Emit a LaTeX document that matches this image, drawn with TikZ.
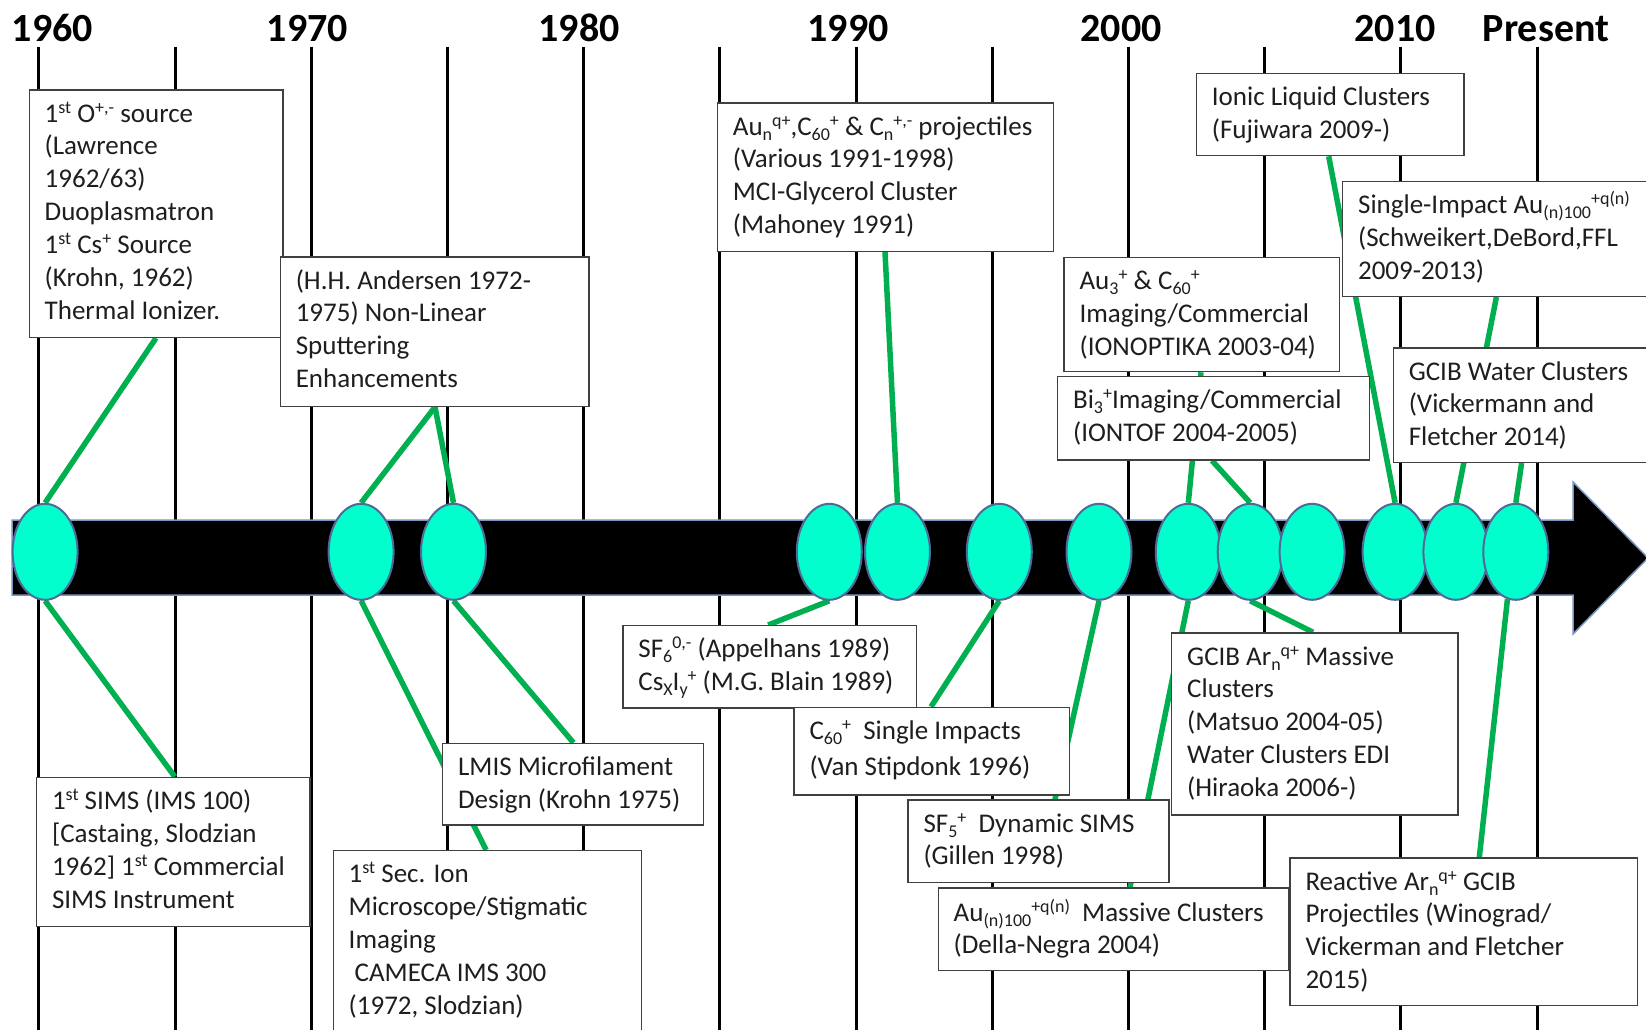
\documentclass[tikz,border=0pt]{standalone}
\usepackage{fontspec}
\setmainfont{Carlito}
\usetikzlibrary{calc,shapes.geometric}

\definecolor{conngreen}{RGB}{0,176,80}
\definecolor{beadfill}{RGB}{0,255,204}
\definecolor{beadline}{RGB}{80,105,150}
\definecolor{bandline}{RGB}{120,150,190}
\definecolor{frameline}{RGB}{64,64,64}
\definecolor{ink}{RGB}{30,30,30}

% raised / lowered small text for charge states and cluster sizes
\newcommand\myup[1]{\raisebox{9pt}{\fontsize{18}{18}\selectfont #1}}
\newcommand\mydn[1]{\raisebox{-5pt}{\fontsize{18}{18}\selectfont #1}}
% fixed height of the first line of each label
\newcommand\fl{\rule{0pt}{24pt}}

\pgfdeclarelayer{back}
\pgfdeclarelayer{links}
\pgfsetlayers{back,links,main}

\tikzset{
  decade/.style={line width=3pt, black},
  yearlabel/.style={font=\bfseries\fontsize{40}{40}\selectfont, inner sep=0pt, anchor=base},
  bead/.style={ellipse, draw=beadline, line width=2pt, fill=beadfill,
               minimum width=65pt, minimum height=96pt, inner sep=0pt},
  conn/.style={conngreen, line width=5.5pt},
  frame/.style={draw=frameline, line width=1.3pt, fill=white, anchor=north west, inner sep=0pt},
  txt/.style={anchor=north west, inner sep=0pt, align=left, text=ink,
              font=\fontsize{27}{32.9}\selectfont},
}

\begin{document}
\begin{tikzpicture}[x=1pt,y=-1pt]
\useasboundingbox (0,0) rectangle (1646,1030);

\begin{pgfonlayer}{back}
\fill[white] (0,0) rectangle (1646,1030);
% five-year grid lines
\foreach \gx in {38.8,175,311.2,447.4,583.6,719.8,856,992.2,1128.4,1264.6,1400.8,1537}
  \draw[decade] (\gx,46.7) -- (\gx,1040);
% time arrow
\draw[fill=black, draw=bandline, line width=1.5pt]
  (12,520) -- (1573,520) -- (1573,482) -- (1648,558) -- (1573,634) -- (1573,595) -- (12,595) -- cycle;
\end{pgfonlayer}

% year labels
\node[yearlabel] (y1960) at (52.4,41.7) {1960};
\node[yearlabel] (y1970) at (307.4,41.7) {1970};
\node[yearlabel] (y1980) at (579,41.7) {1980};
\node[yearlabel] (y1990) at (848,41.7) {1990};
\node[yearlabel] (y2000) at (1121,41.7) {2000};
\node[yearlabel] (y2010) at (1395,41.7) {2010};
\node[yearlabel] (ypresent) at (1546,41.7) {Present};

% event markers
\path
  (45.1,551.8)  node[bead] (e1) {}
  (361.1,551.8) node[bead] (e2) {}
  (453.5,551.8) node[bead] (e3) {}
  (829.3,551.8) node[bead] (e4) {}
  (897.5,551.8) node[bead] (e5) {}
  (999.3,551.8) node[bead] (e6) {}
  (1099,551.8)  node[bead] (e7) {}
  (1188.3,551.8) node[bead] (e8) {}
  (1250.2,551.8) node[bead] (e9) {}
  (1312.1,551.8) node[bead] (e10) {}
  (1395.1,551.8) node[bead] (e11) {}
  (1455.9,551.8) node[bead] (e12) {}
  (1515.8,551.8) node[bead] (e13) {};

% label frames, each followed by its text
\node[frame, minimum width=253.8pt, minimum height=247.4pt] (fA) at (28.5,89.3) {};
\node[txt] (tA) at ($(fA.north west)+(16,8.5)$)
  {\fl 1\myup{st} O\myup{+,-} source\\(Lawrence\\1962/63)\\Duoplasmatron\\1\myup{st} Cs\myup{+} Source\\(Krohn, 1962)\\Thermal Ionizer.};

\node[frame, minimum width=308.8pt, minimum height=149.4pt] (fB) at (279.6,256.3) {};
\node[txt] (tB) at ($(fB.north west)+(16,8.5)$)
  {\fl (H.H. Andersen 1972-\\1975) Non-Linear\\Sputtering\\Enhancements};

\node[frame, minimum width=336pt, minimum height=148.4pt] (fC) at (716.7,102.3) {};
\node[txt] (tC) at ($(fC.north west)+(16,8.5)$)
  {\fl Au\mydn{n}\myup{q+},C\mydn{60}\myup{+} \& C\mydn{n}\myup{+,-} projectiles\\(Various 1991-1998)\\MCI-Glycerol Cluster\\(Mahoney 1991)};

\node[frame, minimum width=267.5pt, minimum height=82.3pt] (fD) at (1195.7,72.7) {};
\node[txt] (tD) at ($(fD.north west)+(16,8.5)$)
  {\fl Ionic Liquid Clusters\\(Fujiwara 2009-)};

\node[frame, minimum width=330pt, minimum height=114.7pt] (fE) at (1341.9,181) {};
\node[txt] (tE) at ($(fE.north west)+(16,8.5)$)
  {\fl Single-Impact Au\mydn{(n)100}\myup{+q(n)}\\(Schweikert,DeBord,FFL\\2009-2013)};

\node[frame, minimum width=275.4pt, minimum height=114.3pt] (fF) at (1063.4,256.7) {};
\node[txt] (tF) at ($(fF.north west)+(16,8.5)$)
  {\fl Au\mydn{3}\myup{+} \& C\mydn{60}\myup{+}\\Imaging/Commercial\\(IONOPTIKA 2003-04)};

\node[frame, minimum width=311.7pt, minimum height=83.3pt] (fG) at (1056.9,376) {};
\node[txt] (tG) at ($(fG.north west)+(16,8.5)$)
  {\fl Bi\mydn{3}\myup{+}Imaging/Commercial\\(IONTOF 2004-2005)};

\node[frame, minimum width=280pt, minimum height=114.4pt] (fH) at (1392.6,347.3) {};
\node[txt] (tH) at ($(fH.north west)+(16,8.5)$)
  {\fl GCIB Water Clusters\\(Vickermann and\\Fletcher 2014)};

\node[frame, minimum width=293.5pt, minimum height=82.3pt] (fI) at (622.2,625) {};
\node[txt] (tI) at ($(fI.north west)+(16,8.5)$)
  {\fl SF\mydn{6}\myup{0,-} (Appelhans 1989)\\Cs\mydn{X}I\mydn{y}\myup{+} (M.G. Blain 1989)};

\node[frame, minimum width=275.5pt, minimum height=87.6pt] (fJ) at (793.3,706.7) {};
\node[txt] (tJ) at ($(fJ.north west)+(16,8.5)$)
  {\fl C\mydn{60}\myup{+}\hspace{0.45em}Single Impacts\\[3.4pt](Van Stipdonk 1996)};

\node[frame, minimum width=261pt, minimum height=82.4pt] (fK) at (907.3,799.3) {};
\node[txt] (tK) at ($(fK.north west)+(16,8.5)$)
  {\fl SF\mydn{5}\myup{+}\hspace{0.45em}Dynamic SIMS\\(Gillen 1998)};

\node[frame, minimum width=350.2pt, minimum height=82.7pt] (fL) at (937.5,887.3) {};
\node[txt] (tL) at ($(fL.north west)+(16,9.5)$)
  {\fl Au\mydn{(n)100}\myup{+q(n)}\hspace{0.45em}Massive Clusters\\(Della-Negra 2004)};

\node[frame, minimum width=286.3pt, minimum height=182pt] (fM) at (1171,632.3) {};
\node[txt] (tM) at ($(fM.north west)+(16,8.5)$)
  {\fl GCIB Ar\mydn{n}\myup{q+} Massive\\Clusters\\(Matsuo 2004-05)\\Water Clusters EDI\\(Hiraoka 2006-)};

\node[frame, minimum width=347.4pt, minimum height=147.7pt] (fN) at (1289.3,857.3) {};
\node[txt] (tN) at ($(fN.north west)+(16,8.5)$)
  {\fl Reactive Ar\mydn{n}\myup{q+} GCIB\\Projectiles (Winograd/\\Vickerman and Fletcher\\2015)};

\node[frame, minimum width=273.5pt, minimum height=149pt] (fO) at (35.8,776.7) {};
\node[txt] (tO) at ($(fO.north west)+(16,8.5)$)
  {\fl 1\myup{st} SIMS (IMS 100)\\{[}Castaing, Slodzian\\1962] 1\myup{st} Commercial\\SIMS Instrument};

\node[frame, minimum width=260.7pt, minimum height=81.6pt] (fP) at (441.9,742.7) {};
\node[txt] (tP) at ($(fP.north west)+(16,8.5)$)
  {\fl LMIS Microfilament\\Design (Krohn 1975)};

\node[frame, minimum width=308.5pt, minimum height=220pt] (fQ) at (332.5,850) {};
\node[txt] (tQ) at ($(fQ.north west)+(16,8.5)$)
  {\fl 1\myup{st} Sec. Ion\\Microscope/Stigmatic\\Imaging\\\hspace*{6pt}CAMECA IMS 300\\(1972, Slodzian)};

% connectors from markers to labels, kept beneath markers and frames
\begin{pgfonlayer}{links}
\draw[conn] (e1.north) -- ($(fA.south west)+(127.5,0)$);
\draw[conn] (e1.south) -- ($(fO.north west)+(139,0)$);
\draw[conn] (e2.north) -- ($(fB.south west)+(155.4,0)$);
\draw[conn] (e3.north) -- ($(fB.south west)+(155.4,0)$);
\draw[conn] (e2.south) -- ($(fQ.north west)+(153.6,0)$);
\draw[conn] (e3.south) -- ($(fP.north west)+(131.5,0)$);
\draw[conn] (e4.south) -- ($(fI.north west)+(146,0)$);
\draw[conn] (e5.north) -- ($(fC.south west)+(168.3,0)$);
\draw[conn] (e6.south) -- ($(fJ.north west)+(137.7,0)$);
\draw[conn] (e7.south) -- ($(fK.north west)+(147.7,0)$);
\draw[conn] (e8.north) -- ($(fF.south west)+(137.6,0)$);
\draw[conn] (e8.south) -- ($(fL.north west)+(192.5,0)$);
\draw[conn] (e9.north) -- ($(fG.south west)+(155.1,0)$);
\draw[conn] (e9.south) -- ($(fM.north west)+(142,0)$);
\draw[conn] (e11.north) -- ($(fD.south west)+(133,0)$);
\draw[conn] (e12.north) -- ($(fE.south west)+(154.5,0)$);
\draw[conn] (e13.north) -- ($(fH.south west)+(129,0)$);
\draw[conn] (e13.260) -- ($(fN.north west)+(190,0)$);
\end{pgfonlayer}

\end{tikzpicture}
\end{document}
